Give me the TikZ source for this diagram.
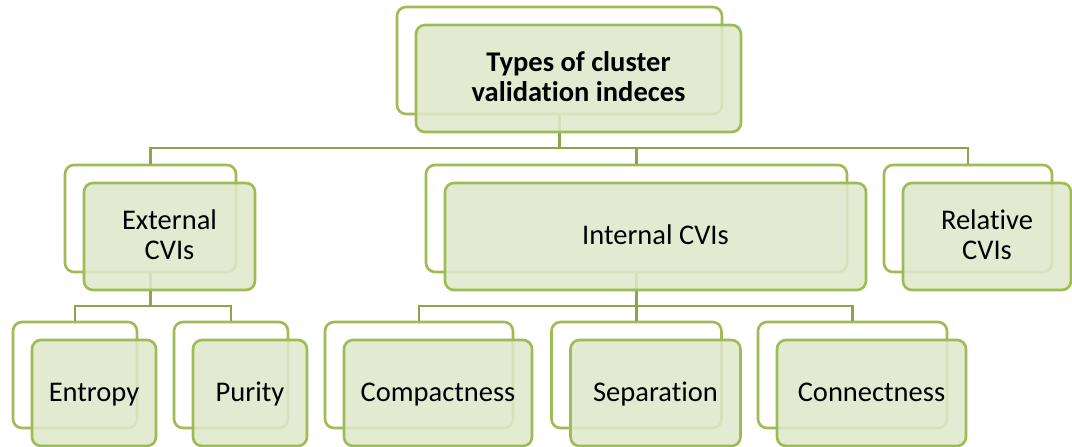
\documentclass[tikz,border=0pt]{standalone}
\usepackage{fontspec}
\setmainfont{Carlito}[Ligatures=NoCommon]
\definecolor{cvgreen}{RGB}{158,188,84}
\definecolor{cvline}{RGB}{138,166,72}
\definecolor{cvfill}{RGB}{223,232,204}
\newcommand\cvstrut{\rule[-7pt]{0pt}{30pt}}
\begin{document}
\begin{tikzpicture}[x=1pt,y=-1pt,
  backbox/.style={draw=cvgreen, line width=2.6pt, rounded corners=9pt, fill=white, inner sep=0pt, minimum height=#1},
  backbox/.default=107pt,
  frontbox/.style={draw=cvgreen, line width=2.6pt, rounded corners=9pt, fill=cvfill, fill opacity=0.88, text opacity=1, inner sep=0pt, align=center, minimum height=#1, font=\fontsize{28.5}{30.5}\selectfont},
  frontbox/.default=107pt,
  conn/.style={draw=cvline, line width=2.2pt}]
\useasboundingbox (0,0) rectangle (1072,447);
\coordinate (bus1) at (0,148);
\coordinate (bus2) at (0,306);
% back boxes
\node[backbox, minimum width=325pt] (tb) at (559.5,60.5) {};
\node[backbox, minimum width=171pt] (eb) at (150.5,218.5) {};
\node[backbox, minimum width=421pt] (ib) at (636.5,218.5) {};
\node[backbox, minimum width=168pt] (rb) at (968,218.5) {};
\node[backbox=106pt, minimum width=124pt] (enb) at (75,375) {};
\node[backbox=106pt, minimum width=114pt] (pb) at (231,375) {};
\node[backbox=106pt, minimum width=188pt] (cb) at (419,375) {};
\node[backbox=106pt, minimum width=170pt] (sb) at (636.5,375) {};
\node[backbox=106pt, minimum width=189pt] (nb) at (852.5,375) {};
% connectors
\draw[conn] (tb.south) -- (tb.south |- bus1);
\draw[conn] (eb.north) |- (rb.north |- bus1) -- (rb.north);
\draw[conn] (ib.north) -- (ib.north |- bus1);
\draw[conn] (eb.south) -- (eb.south |- bus2);
\draw[conn] (enb.north) |- (pb.north |- bus2) -- (pb.north);
\draw[conn] (ib.south) -- (sb.north);
\draw[conn] (cb.north) |- (nb.north |- bus2) -- (nb.north);
% front boxes
\node[frontbox, minimum width=325pt] (tf) at (578.5,78.5) {\cvstrut\bfseries Types of cluster\\\cvstrut\bfseries validation indeces};
\node[frontbox, minimum width=171pt] (ef) at (169.5,236.5) {\cvstrut External\\\cvstrut CVIs};
\node[frontbox, minimum width=421pt] (if) at (655.5,236.5) {\cvstrut Internal CVIs};
\node[frontbox, minimum width=168pt] (rf) at (987,236.5) {\cvstrut Relative\\\cvstrut CVIs};
\node[frontbox=106pt, minimum width=124pt] (enf) at (94,393) {\cvstrut Entropy};
\node[frontbox=106pt, minimum width=114pt] (pf) at (250,393) {\cvstrut Purity};
\node[frontbox=106pt, minimum width=188pt] (cf) at (438,393) {\cvstrut Compactness};
\node[frontbox=106pt, minimum width=170pt] (sf) at (655.5,393) {\cvstrut Separation};
\node[frontbox=106pt, minimum width=189pt] (nf) at (871.5,393) {\cvstrut Connectness};
\end{tikzpicture}
\end{document}
